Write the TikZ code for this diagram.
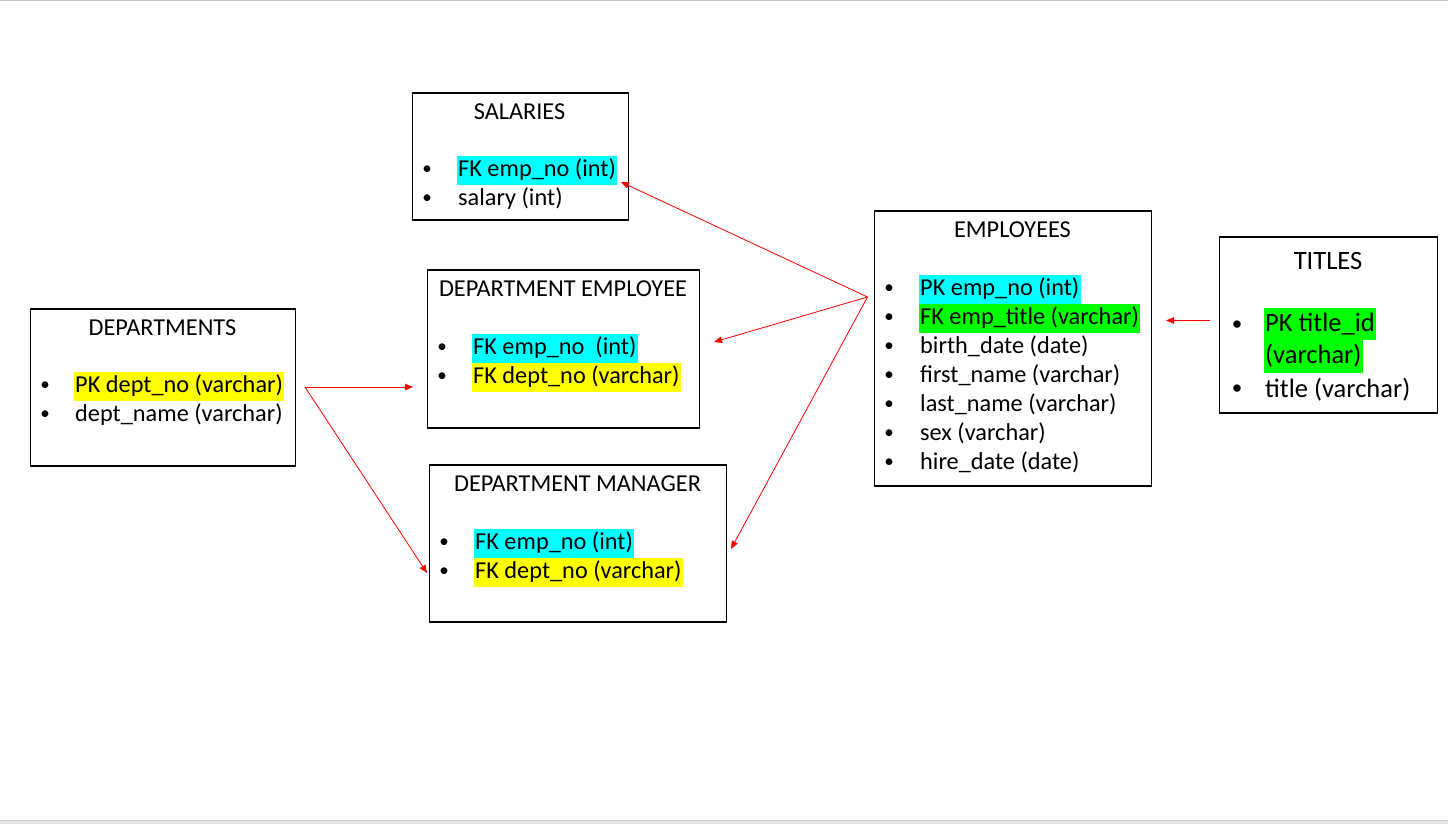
\documentclass[tikz,border=0pt]{standalone}
\usepackage{fontspec}
\setmainfont{Carlito}
\usetikzlibrary{arrows.meta}
\definecolor{hlcyan}{HTML}{00FFFF}
\definecolor{hlyellow}{HTML}{FFFF00}
\definecolor{hlgreen}{HTML}{00FF00}
\definecolor{arrred}{HTML}{FF0000}
\definecolor{edgegray}{HTML}{C8C8C8}
\definecolor{footgray}{HTML}{E6E6E6}
\begin{document}
\begin{tikzpicture}[x=1pt,y=-1pt,
  tbl/.style={draw=black, line width=1.7pt, anchor=north west, inner sep=0pt},
  ttl/.style={font=\fontsize{24.3}{29}\selectfont, inner sep=0pt},
  bigttl/.style={font=\fontsize{26.5}{32}\selectfont, inner sep=0pt},
  bul/.style={font=\fontsize{19}{23}\selectfont, inner sep=0pt},
  bigbul/.style={font=\fontsize{21}{25}\selectfont, inner sep=0pt},
  txt/.style={font=\fontsize{24.3}{29}\selectfont, anchor=west, inner xsep=1.5pt, inner ysep=0pt, text height=18.5pt, text depth=5pt, minimum height=29pt},
  bigtxt/.style={font=\fontsize{26.5}{32}\selectfont, anchor=west, inner xsep=1.5pt, inner ysep=0pt, text height=20pt, text depth=6pt, minimum height=32.5pt},
  hc/.style={fill=hlcyan},
  hy/.style={fill=hlyellow},
  hg/.style={fill=hlgreen},
  arr/.style={draw=arrred, line width=0.8pt, -{Triangle[length=8pt,width=6.5pt]}}
]
\useasboundingbox (0,0) rectangle (1448,824);
\fill[white] (0,0) rectangle (1448,824);
\draw[edgegray, line width=1.2pt] (0,0.6) -- (1448,0.6);
\fill[footgray] (0,820) rectangle (1448,824);
\draw[edgegray, line width=1.2pt] (0,820.6) -- (1448,820.6);

% ---------- SALARIES ----------
\node[tbl, minimum width=216pt, minimum height=127pt] (sal) at (411.5,92) {};
\node[ttl] (salT) at (519.5,112) {SALARIES};
\node[bul] (salB1) at (427,170) {•};
\node[txt,hc] (salI1) at (456.5,170) {FK emp\_no (int)};
\node[bul] (salB2) at (427,199) {•};
\node[txt] (salI2) at (456.5,199) {salary (int)};

% ---------- DEPARTMENT EMPLOYEE ----------
\node[tbl, minimum width=272pt, minimum height=158pt] (de) at (426.5,269) {};
\node[ttl] (deT) at (563,289) {DEPARTMENT EMPLOYEE};
\node[bul] (deB1) at (442,348) {•};
\node[txt,hc] (deI1) at (471.5,348) {FK emp\_no\ \ (int)};
\node[bul] (deB2) at (442,377) {•};
\node[txt,hy] (deI2) at (471.5,377) {FK dept\_no (varchar)};

% ---------- DEPARTMENTS ----------
\node[tbl, minimum width=265pt, minimum height=157pt] (dp) at (29.5,308) {};
\node[ttl] (dpT) at (162.5,328) {DEPARTMENTS};
\node[bul] (dpB1) at (45,386) {•};
\node[txt,hy] (dpI1) at (73.5,386) {PK dept\_no (varchar)};
\node[bul] (dpB2) at (45,415) {•};
\node[txt] (dpI2) at (73.5,415) {dept\_name (varchar)};

% ---------- DEPARTMENT MANAGER ----------
\node[tbl, minimum width=297pt, minimum height=157pt] (dm) at (428.5,464) {};
\node[ttl] (dmT) at (577.5,484) {DEPARTMENT MANAGER};
\node[bul] (dmB1) at (444,543) {•};
\node[txt,hc] (dmI1) at (473.5,543) {FK emp\_no (int)};
\node[bul] (dmB2) at (444,572) {•};
\node[txt,hy] (dmI2) at (473.5,572) {FK dept\_no (varchar)};

% ---------- EMPLOYEES ----------
\node[tbl, minimum width=277pt, minimum height=275pt] (em) at (873.5,210) {};
\node[ttl] (emT) at (1012.5,230) {EMPLOYEES};
\node[bul] (emB1) at (889,289) {•};
\node[txt,hc] (emI1) at (918.5,289) {PK emp\_no (int)};
\node[bul] (emB2) at (889,318) {•};
\node[txt,hg] (emI2) at (918.5,318) {FK emp\_title (varchar)};
\node[bul] (emB3) at (889,347) {•};
\node[txt] (emI3) at (918.5,347) {birth\_date (date)};
\node[bul] (emB4) at (889,376) {•};
\node[txt] (emI4) at (918.5,376) {first\_name (varchar)};
\node[bul] (emB5) at (889,405) {•};
\node[txt] (emI5) at (918.5,405) {last\_name (varchar)};
\node[bul] (emB6) at (889,434) {•};
\node[txt] (emI6) at (918.5,434) {sex (varchar)};
\node[bul] (emB7) at (889,463) {•};
\node[txt] (emI7) at (918.5,463) {hire\_date (date)};

% ---------- TITLES ----------
\node[tbl, minimum width=218pt, minimum height=176pt] (ti) at (1218.5,236) {};
\node[bigttl] (tiT) at (1328,261) {TITLES};
\node[bigbul] (tiB1) at (1237,326) {•};
\node[bigtxt,hg] (tiI1) at (1263.5,324) {PK title\_id\ };
\node[bigtxt,hg] (tiI1b) at (1263.5,356.5) {(varchar)};
\node[bigbul] (tiB2) at (1237,390) {•};
\node[bigtxt] (tiI2) at (1263.5,390) {title (varchar)};

% ---------- connectors ----------
\coordinate (emSrc) at (867.5,297);
\coordinate (salTip) at (621,182);
\coordinate (deTip) at (714,342);
\coordinate (dmTip) at (731,549);
\coordinate (dpSrc) at (305,387);
\coordinate (deTip2) at (413,387);
\coordinate (dmTip2) at (427,573);
\coordinate (tiSrc) at (1210,320.5);
\coordinate (emTip) at (1166,320.5);

\draw[arr] (emSrc) -- (salTip);
\draw[arr] (emSrc) -- (deTip);
\draw[arr] (emSrc) -- (dmTip);
\draw[arr] (dpSrc) -- (deTip2);
\draw[arr] (dpSrc) -- (dmTip2);
\draw[arr] (tiSrc) -- (emTip);
\end{tikzpicture}
\end{document}
